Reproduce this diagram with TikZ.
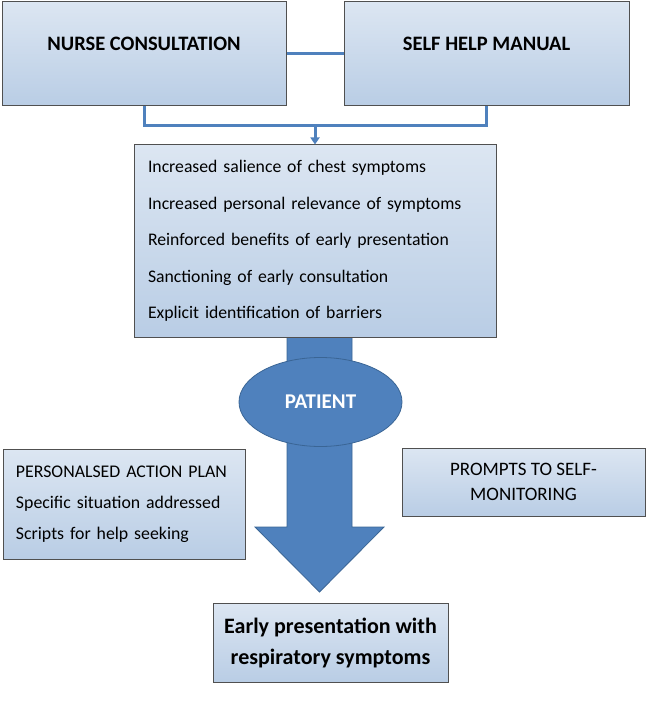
\documentclass[tikz,border=0pt]{standalone}
\usepackage{fontspec}
\setmainfont{Carlito}
\usetikzlibrary{shapes.geometric,arrows.meta}
\definecolor{boxtop}{HTML}{DCE6F2}
\definecolor{boxbot}{HTML}{B9CDE5}
\definecolor{boxedge}{HTML}{505050}
\definecolor{ablue}{HTML}{4F81BD}
\definecolor{adark}{HTML}{3A6595}
\tikzset{
  box/.style={draw=boxedge, line width=1pt, top color=boxtop, bottom color=boxbot, rectangle, inner sep=0pt},
  listbox/.style={box, align=left, inner xsep=14pt},
  conn/.style={draw=ablue, line width=3pt},
  bigarrow/.style={fill=ablue, draw=adark, line width=0.8pt},
}
\begin{document}
\begin{tikzpicture}[x=1pt,y=-1pt]
\useasboundingbox (0,0) rectangle (650,708);
% big arrow (behind)
\draw[bigarrow] (287,330) -- (287,527) -- (255,527) -- (319.5,592) -- (384,527) -- (352,527) -- (352,330) -- cycle;
% top boxes
\node[box, minimum width=284pt, minimum height=104pt, font=\fontsize{20.5}{24}\selectfont\bfseries] (nurse) at (144,54) {\raisebox{19.5pt}{NURSE CONSULTATION}};
\node[box, minimum width=285pt, minimum height=104pt, font=\fontsize{20.5}{24}\selectfont\bfseries] (self) at (486.5,54) {\raisebox{19.5pt}{SELF HELP MANUAL}};
% middle list
\node[listbox, text width=334pt, minimum height=192pt, font=\fontsize{17.7}{36.5}\selectfont] (mid) at (315,241) {Increased salience of chest symptoms\\Increased personal relevance of symptoms\\Reinforced benefits of early presentation\\Sanctioning of early consultation\\Explicit identification of barriers};
% patient ellipse
\node[ellipse, fill=ablue, draw=adark, line width=0.8pt, minimum width=163pt, minimum height=89pt, inner sep=0pt, text=white, font=\fontsize{21}{24}\selectfont\bfseries] (patient) at (320.5,402) {PATIENT};
% side boxes
\node[listbox, inner xsep=13pt, text width=216pt, minimum height=110pt, font=\fontsize{17.8}{31}\selectfont] (plan) at (124,504) {PERSONALSED ACTION PLAN\\Specific situation addressed\\Scripts for help seeking};
\node[box, minimum width=243pt, minimum height=68pt, align=center, font=\fontsize{19}{25}\selectfont] (prompts) at (523.5,482) {PROMPTS TO SELF-\\MONITORING};
% bottom box
\node[box, minimum width=235pt, minimum height=79pt, align=center, font=\fontsize{22}{31}\selectfont\bfseries] (early) at (330.5,642.5) {Early presentation with\\respiratory symptoms};
% connectors
\coordinate (j1) at (nurse.south |- 0,126);
\coordinate (j2) at (self.south |- 0,126);
\coordinate (jm) at (mid.north |- 0,126);
\draw[conn] (nurse.east) -- (self.west);
\draw[conn] (nurse.south) -- (j1) -- (j2) -- (self.south);
\draw[conn, -{Triangle[length=7pt,width=9pt]}] (jm) -- (mid.north);
\end{tikzpicture}
\end{document}
